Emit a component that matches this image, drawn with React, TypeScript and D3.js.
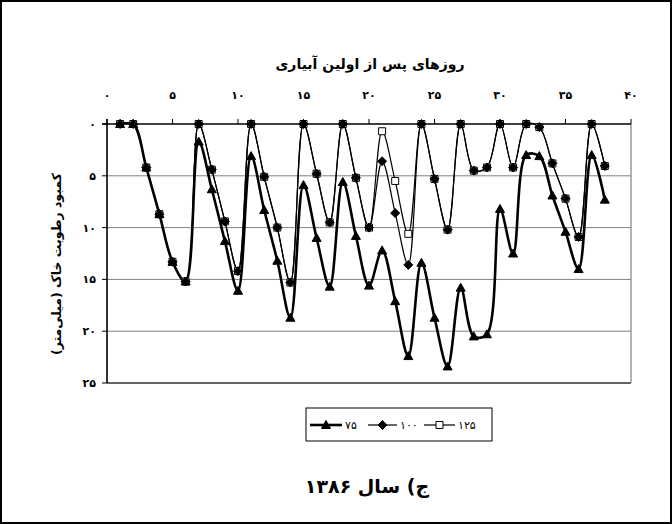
import React from 'react';
import * as d3 from 'd3';

const days = [1, 2, 3, 4, 5, 6, 7, 8, 9, 10, 11, 12, 13, 14, 15, 16, 17, 18, 19, 20, 21, 22, 23, 24, 25, 26, 27, 28, 29, 30, 31, 32, 33, 34, 35, 36, 37, 38];
const s75 = [0, 0, 4.2, 8.7, 13.3, 15.2, 1.7, 6.3, 11.3, 16.1, 3.1, 8.3, 13.2, 18.7, 5.9, 11.0, 15.7, 5.6, 10.8, 15.6, 12.2, 17.1, 22.4, 13.4, 18.7, 23.4, 15.8, 20.5, 20.3, 8.2, 12.5, 3.0, 3.1, 6.9, 10.4, 14.0, 3.0, 7.3];
const s100 = [0, 0, 4.2, 8.7, 13.3, 15.2, 0, 4.4, 9.4, 14.2, 0, 5.1, 10.0, 15.3, 0, 4.8, 9.5, 0, 5.2, 10.0, 3.6, 8.6, 13.6, 0, 5.3, 10.2, 0, 4.5, 4.2, 0, 4.2, 0, 0.3, 3.8, 7.2, 10.9, 0, 4.05];
const s125 = [0, 0, 4.2, 8.7, 13.3, 15.2, 0, 4.4, 9.4, 14.2, 0, 5.1, 10.0, 15.3, 0, 4.8, 9.5, 0, 5.2, 10.0, 0.7, 5.5, 10.6, 0, 5.3, 10.2, 0, 4.5, 4.2, 0, 4.2, 0, 0.3, 3.8, 7.2, 10.9, 0, 4.05];
const xTickValues = [0, 5, 10, 15, 20, 25, 30, 35, 40];
const xTickLabels = ['۰', '۵', '۱۰', '۱۵', '۲۰', '۲۵', '۳۰', '۳۵', '۴۰'];
const yTickValues = [0, 5, 10, 15, 20, 25];
const yTickLabels = ['۰', '۵', '۱۰', '۱۵', '۲۰', '۲۵'];
const seriesNames = ['۷۵', '۱۰۰', '۱۲۵'];
const xTitle = 'روزهای پس از اولین آبیاری';
const yTitle = 'کمبود رطوبت خاک (میلی‌متر)';
const caption = 'ج) سال ۱۳۸۶';

const FONT = '"DejaVu Sans", sans-serif';
const TRI = 'M0,-4.5L4.5,3.5L-4.5,3.5Z';
const DIA = 'M0,-4.5L4.5,0L0,4.5L-4.5,0Z';
const SQ = 'M-3.5,-3.5h7v7h-7Z';

export default function App() {
  const W = 672, H = 524;
  const x = d3.scaleLinear().domain([0, 40]).range([107, 631]);
  const y = d3.scaleLinear().domain([0, 25]).range([124, 383]);
  const mkLine = (vals: number[]) =>
    d3.line<number>()
      .x((_, i) => x(days[i]))
      .y((v) => y(v))
      .curve(d3.curveCatmullRom.alpha(0.5))(vals) || '';

  const series = [
    { name: seriesNames[2], vals: s125, marker: SQ, fill: '#fff', lw: 1.2 },
    { name: seriesNames[1], vals: s100, marker: DIA, fill: '#000', lw: 1.2 },
    { name: seriesNames[0], vals: s75, marker: TRI, fill: '#000', lw: 2.6 },
  ];

  const legendItems = [
    { name: seriesNames[0], marker: TRI, fill: '#000', lw: 2.6, x0: 310, x1: 342 },
    { name: seriesNames[1], marker: DIA, fill: '#000', lw: 1.2, x0: 368, x1: 397 },
    { name: seriesNames[2], marker: SQ, fill: '#fff', lw: 1.2, x0: 424, x1: 455 },
  ];

  return (
    <svg width={W} height={H} style={{ position: 'absolute', left: 0, top: 0, background: '#fff' }} fontFamily={FONT}>
      <rect x={0} y={0} width={W} height={H} fill="#fff" />
      <rect x={1} y={1} width={W - 2} height={H - 2} fill="none" stroke="#000" strokeWidth={2} />
      <defs>
        <clipPath id="plotclip">
          <rect x={107} y={122} width={524} height={262} />
        </clipPath>
      </defs>
      {yTickValues.filter((v) => v > 0 && v < 25).map((v) => (
        <line key={v} x1={x(0)} x2={x(40)} y1={y(v)} y2={y(v)} stroke="#808080" strokeWidth={1} />
      ))}
      <line x1={x(0)} x2={x(40)} y1={y(25)} y2={y(25)} stroke="#303030" strokeWidth={1.6} />
      <line x1={x(40)} x2={x(40)} y1={y(0)} y2={y(25)} stroke="#808080" strokeWidth={1.2} />
      <line x1={x(0)} x2={x(0)} y1={y(0) - 5} y2={y(25)} stroke="#000" strokeWidth={1.6} />
      <line x1={x(0) - 5} x2={x(40)} y1={y(0)} y2={y(0)} stroke="#000" strokeWidth={1.6} />
      {xTickValues.map((v, i) => (
        <g key={v}>
          <line x1={x(v)} x2={x(v)} y1={y(0)} y2={y(0) - 5} stroke="#000" strokeWidth={1} />
          <text x={x(v)} y={99} textAnchor="middle" fontSize={11} fontWeight="bold">{xTickLabels[i]}</text>
        </g>
      ))}
      {yTickValues.map((v, i) => (
        <g key={v}>
          <line x1={x(0) - 5} x2={x(0)} y1={y(v)} y2={y(v)} stroke="#000" strokeWidth={1} />
          <text x={96} y={y(v) + 4} textAnchor="end" fontSize={11} fontWeight="bold">{yTickLabels[i]}</text>
        </g>
      ))}
      <text x={370} y={69} textAnchor="middle" fontSize={14} fontWeight="bold" direction="rtl">{xTitle}</text>
      <text transform="translate(61,264) rotate(-90)" textAnchor="middle" fontSize={12.5} fontWeight="bold" direction="rtl">{yTitle}</text>
      <g clipPath="url(#plotclip)">
        {series.map((s) => (
          <path key={s.name} d={mkLine(s.vals)} fill="none" stroke="#000" strokeWidth={s.lw} />
        ))}
      </g>
      {series.map((s) => (
        <g key={'m' + s.name}>
          {s.vals.map((v, i) => (
            <path key={i} d={s.marker} transform={`translate(${x(days[i])},${y(v)})`} fill={s.fill} stroke="#000" strokeWidth={1} />
          ))}
        </g>
      ))}
      <rect x={306} y={408} width={186} height={33} fill="#fff" stroke="#000" strokeWidth={1} />
      {legendItems.map((it) => (
        <g key={'l' + it.name}>
          <line x1={it.x0} x2={it.x1} y1={425} y2={425} stroke="#000" strokeWidth={it.lw} />
          <path d={it.marker} transform={`translate(${(it.x0 + it.x1) / 2},425)`} fill={it.fill} stroke="#000" strokeWidth={1} />
          <text x={it.x1 + 3} y={429} fontSize={11}>{it.name}</text>
        </g>
      ))}
      <text x={367} y={493} textAnchor="middle" fontSize={19} fontWeight="bold" direction="rtl">{caption}</text>
    </svg>
  );
}
